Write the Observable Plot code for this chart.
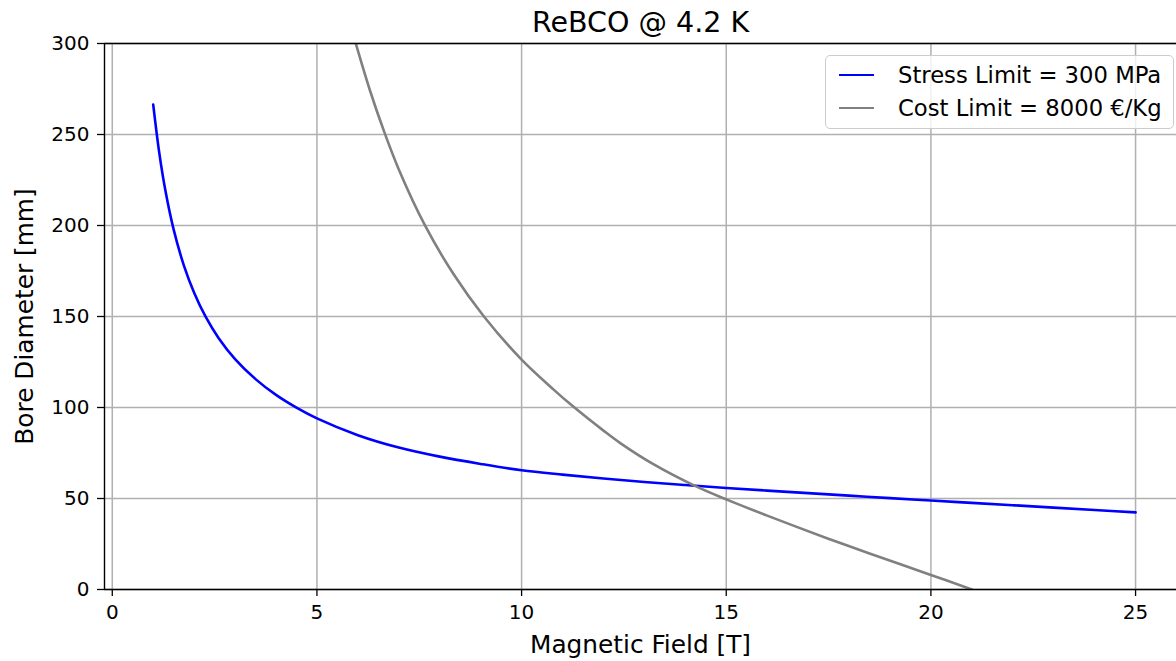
<!DOCTYPE html>
<html>
<head>
<meta charset="utf-8">
<script src="https://cdn.jsdelivr.net/npm/d3@7"></script>
<script src="https://cdn.jsdelivr.net/npm/@observablehq/plot@0.6"></script>
<style>
  html, body { margin: 0; padding: 0; background: #fff; }
  #wrap { position: relative; width: 1176px; height: 661px; overflow: hidden; font-family: "DejaVu Sans", sans-serif; }
  #legend { position: absolute; left: 825px; top: 55px; width: 349px; height: 74px; box-sizing: border-box;
            border: 1.3px solid #cccccc; border-radius: 5px; background: rgba(255,255,255,0.8); }
  .row { position: absolute; left: 0; height: 30px; font-size: 22.7px; color: #000; white-space: nowrap; }
  .swatch { position: absolute; left: 13px; top: 14px; width: 35px; height: 0; border-top: 2.6px solid; }
  .lbl { position: absolute; left: 72px; top: 1px; line-height: 28px; }
</style>
</head>
<body>
<div id="wrap"></div>
<script>
// ---- data ----
const title = "ReBCO @ 4.2 K";
const xLabel = "Magnetic Field [T]";
const yLabel = "Bore Diameter [mm]";
const xTicks = [0, 5, 10, 15, 20, 25];
const yTicks = [0, 50, 100, 150, 200, 250, 300];
const xDomain = [-0.19, 26.0];
const yDomain = [0, 300];

const seriesNames = ["Stress Limit = 300 MPa", "Cost Limit = 8000 €/Kg"];
const seriesColors = ["#0000ff", "#808080"];

// Stress limit (blue)
const stressField = [1.0, 1.15, 1.3, 1.5, 1.75, 2.0, 2.28, 2.6, 3.0, 3.5, 4.0, 4.5, 5.0, 6.0, 7.0, 8.0, 9.0, 10.0, 11.0, 12.0, 13.0, 14.0, 15.0, 16.0, 17.0, 18.0, 19.0, 20.0, 21.0, 22.0, 23.0, 24.0, 25.0];
const stressBore  = [266.4, 239.6, 218.9, 197.7, 178.0, 163.1, 149.9, 138.1, 126.6, 115.6, 106.9, 99.9, 94.0, 84.8, 78.0, 73.0, 69.0, 65.5, 63.1, 61.0, 59.1, 57.4, 55.8, 54.35, 52.95, 51.6, 50.2, 48.9, 47.6, 46.3, 45.0, 43.7, 42.4];

// Cost limit (grey)
const costField = [5.93, 6.3, 6.63, 7.0, 7.65, 8.34, 9.08, 10.0, 10.79, 11.24, 12.0, 12.42, 13.23, 14.21, 15.0, 16.0, 17.46, 18.5, 20.0, 21.0];
const costBore  = [301.5, 273.9, 252.3, 230.8, 199.6, 173.2, 150, 126.3, 109.7, 100.9, 87.3, 80.3, 68.7, 57.2, 49.5, 40.6, 28.2, 19.8, 8, 0];

// ---- table ----
const rows = [];
stressField.forEach((b, i) => rows.push({series: seriesNames[0], B: b, D: stressBore[i]}));
costField.forEach((b, i) => rows.push({series: seriesNames[1], B: b, D: costBore[i]}));

const plot = Plot.plot({
  width: 1176,
  height: 661,
  marginLeft: 104,
  marginRight: 0,
  marginTop: 43,
  marginBottom: 72,
  style: {fontFamily: "DejaVu Sans, sans-serif", fontSize: "20px", color: "#000", background: "#fff"},
  x: {domain: xDomain},
  y: {domain: yDomain},
  color: {domain: seriesNames, range: seriesColors},
  marks: [
    Plot.gridX(xTicks, {stroke: "#b0b0b0", strokeOpacity: 1, strokeWidth: 1.5}),
    Plot.gridY(yTicks, {stroke: "#b0b0b0", strokeOpacity: 1, strokeWidth: 1.5}),
    Plot.line(rows, {x: "B", y: "D", z: "series", stroke: "series", strokeWidth: 2.6, curve: "catmull-rom", clip: true}),
    Plot.ruleX([xDomain[0]], {stroke: "#000", strokeWidth: 1.4}),
    Plot.ruleY(yDomain, {stroke: "#000", strokeWidth: 1.4}),
    Plot.axisX({ticks: xTicks, tickSize: 7, tickPadding: 8, label: null, fontSize: 20, strokeWidth: 1.3}),
    Plot.axisY({ticks: yTicks, tickSize: 7, tickPadding: 8, label: null, fontSize: 20, strokeWidth: 1.3}),
    Plot.text([title], {frameAnchor: "top", lineAnchor: "middle", textAnchor: "middle", dy: -21, text: d => d, fontSize: 28.5, fill: "#000"}),
    Plot.text([xLabel], {frameAnchor: "bottom", lineAnchor: "middle", textAnchor: "middle", dy: 56, text: d => d, fontSize: 24.8, fill: "#000"}),
    Plot.text([yLabel], {frameAnchor: "left", lineAnchor: "middle", textAnchor: "middle", dx: -79, rotate: -90, text: d => d, fontSize: 24.8, fill: "#000"})
  ]
});

const wrap = document.getElementById("wrap");
wrap.appendChild(plot);

// legend (inside the axes, top-right)
const legend = document.createElement("div");
legend.id = "legend";
seriesNames.forEach((name, i) => {
  const row = document.createElement("div");
  row.className = "row";
  row.style.top = (4 + i * 33) + "px";
  row.style.width = "100%";
  const sw = document.createElement("span");
  sw.className = "swatch";
  sw.style.borderTopColor = seriesColors[i];
  const lb = document.createElement("span");
  lb.className = "lbl";
  lb.textContent = name;
  row.appendChild(sw);
  row.appendChild(lb);
  legend.appendChild(row);
});
wrap.appendChild(legend);
</script>
</body>
</html>
